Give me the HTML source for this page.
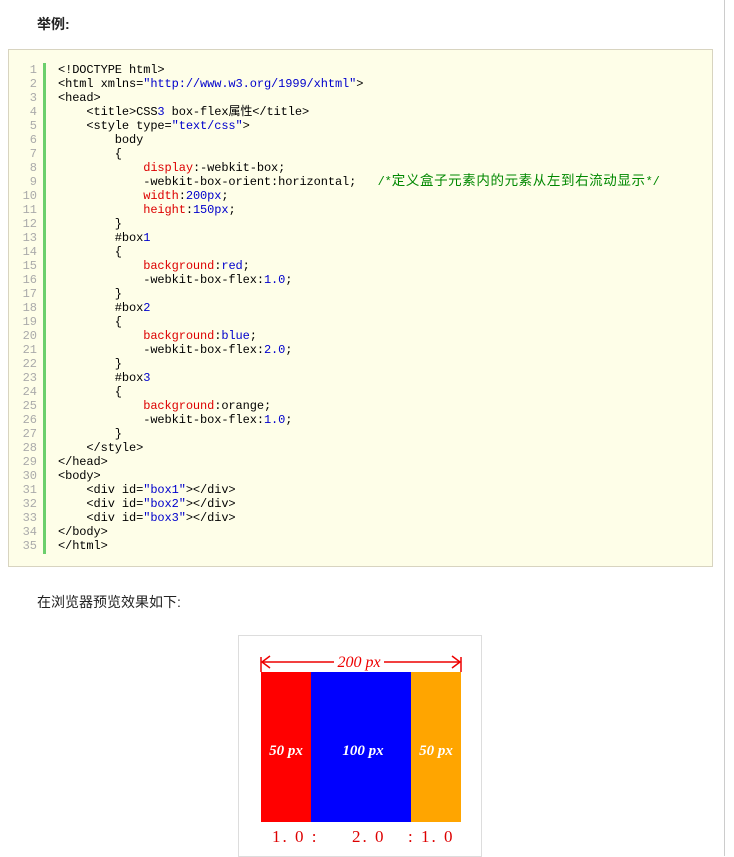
<!DOCTYPE html>
<html><head><meta charset="utf-8"><style>
*{margin:0;padding:0;box-sizing:border-box}
body{width:734px;height:856px;background:#fff;position:relative;overflow:hidden;font-family:"Liberation Sans","Noto Sans CJK SC",sans-serif}
.vline{position:absolute;left:724px;top:0;width:1px;height:856px;background:#ccc}
.h{position:absolute;left:37px;top:14px;font-size:14px;font-weight:bold;color:#222}
.code{position:absolute;left:8px;top:49px;width:705px;height:518px;background:#fefee8;border:1px solid #d8d4c0}
.bar{position:absolute;left:34px;top:13px;width:3px;height:491px;background:#6ccf6c}
.nums{position:absolute;left:4px;top:13px;width:24px;text-align:right;color:#aaa;font:12px/14px "Liberation Mono",monospace;white-space:pre}
pre{position:absolute;left:49px;top:13px;font:12px/14px "Liberation Mono","Noto Sans CJK SC",monospace;color:#000;letter-spacing:-0.1px}
.p{color:#d00}.v{color:#00c}.c{color:#080}
.cj{font-family:"Noto Sans CJK SC",sans-serif;font-size:13.5px;letter-spacing:0.6px;line-height:0}
.t2{position:absolute;left:37px;top:592px;font-size:14px;color:#222}
.fig{position:absolute;left:238px;top:635px;width:244px;height:222px;border:1px solid #ddd}
</style></head><body>
<div class="vline"></div>
<div class="h">举例:</div>
<div class="code">
<div class="nums">1
2
3
4
5
6
7
8
9
10
11
12
13
14
15
16
17
18
19
20
21
22
23
24
25
26
27
28
29
30
31
32
33
34
35</div>
<div class="bar"></div>
<pre>&lt;!DOCTYPE html&gt;
&lt;html xmlns=<span class="v">"http://www.w3.org/1999/xhtml"</span>&gt;
&lt;head&gt;
    &lt;title&gt;CSS<span class="v">3</span> box-flex属性&lt;/title&gt;
    &lt;style type=<span class="v">"text/css"</span>&gt;
        body
        {
            <span class="p">display</span>:-webkit-box;
            -webkit-box-orient:horizontal;   <span class="c">/*<span class="cj">定义盒子元素内的元素从左到右流动显示</span>*/</span>
            <span class="p">width</span>:<span class="v">200px</span>;
            <span class="p">height</span>:<span class="v">150px</span>;
        }
        #box<span class="v">1</span>
        {
            <span class="p">background</span>:<span class="v">red</span>;
            -webkit-box-flex:<span class="v">1.0</span>;
        }
        #box<span class="v">2</span>
        {
            <span class="p">background</span>:<span class="v">blue</span>;
            -webkit-box-flex:<span class="v">2.0</span>;
        }
        #box<span class="v">3</span>
        {
            <span class="p">background</span>:orange;
            -webkit-box-flex:<span class="v">1.0</span>;
        }
    &lt;/style&gt;
&lt;/head&gt;
&lt;body&gt;
    &lt;div id=<span class="v">"box1"</span>&gt;&lt;/div&gt;
    &lt;div id=<span class="v">"box2"</span>&gt;&lt;/div&gt;
    &lt;div id=<span class="v">"box3"</span>&gt;&lt;/div&gt;
&lt;/body&gt;
&lt;/html&gt;</pre>
</div>
<div class="t2">在浏览器预览效果如下:</div>
<div class="fig"></div>
<svg style="position:absolute;left:0;top:0" width="734" height="856">
<line x1="261" y1="657" x2="261" y2="672" stroke="#e00" stroke-width="1.5"/>
<line x1="461" y1="657" x2="461" y2="672" stroke="#e00" stroke-width="1.5"/>
<line x1="262" y1="662" x2="334" y2="662" stroke="#e00" stroke-width="1.5"/>
<line x1="384" y1="662" x2="460" y2="662" stroke="#e00" stroke-width="1.5"/>
<polyline points="270,656 262,662 270,668" fill="none" stroke="#e00" stroke-width="1.5"/>
<polyline points="452,656 460,662 452,668" fill="none" stroke="#e00" stroke-width="1.5"/>
<text x="359" y="667" text-anchor="middle" font-family="Liberation Serif" font-style="italic" font-size="16" fill="#e00">200 px</text>
<rect x="261" y="672" width="50" height="150" fill="#f00"/>
<rect x="311" y="672" width="100" height="150" fill="#00f"/>
<rect x="411" y="672" width="50" height="150" fill="#ffa500"/>
<text x="286" y="755" text-anchor="middle" font-family="Liberation Serif" font-style="italic" font-weight="bold" font-size="15" fill="#fff">50 px</text>
<text x="363" y="755" text-anchor="middle" font-family="Liberation Serif" font-style="italic" font-weight="bold" font-size="15" fill="#fff">100 px</text>
<text x="436" y="755" text-anchor="middle" font-family="Liberation Serif" font-style="italic" font-weight="bold" font-size="15" fill="#fff">50 px</text>
<text x="272" y="842" font-family="Liberation Serif" font-size="17" fill="#d00" letter-spacing="2">1. 0  :</text>
<text x="352" y="842" font-family="Liberation Serif" font-size="17" fill="#d00" letter-spacing="2">2. 0</text>
<text x="408" y="842" font-family="Liberation Serif" font-size="17" fill="#d00" letter-spacing="2">:  1. 0</text>
</svg>
</body></html>
